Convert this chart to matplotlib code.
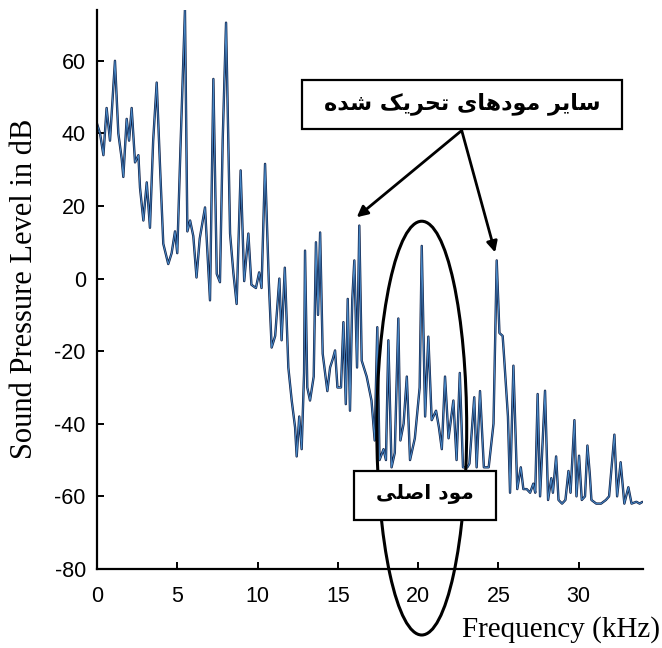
import matplotlib
matplotlib.use("Agg")
import matplotlib.pyplot as plt
from matplotlib.patches import Ellipse, Rectangle

# spectre : fréquence (kHz) / niveau (dB)
freq = [0.0, 0.19, 0.4, 0.6, 0.81, 1.12, 1.33, 1.54, 1.64, 1.85, 2.0, 2.16, 2.37, 2.58,
        2.68, 2.89, 3.1, 3.3, 3.5, 3.72, 3.93, 4.13, 4.44, 4.65, 4.86, 5.0, 5.2, 5.48,
        5.63, 5.8, 6.0, 6.2, 6.4, 6.73, 7.04, 7.25, 7.46, 7.66, 7.83, 8.04, 8.29, 8.5,
        8.7, 8.95, 9.17, 9.43, 9.62, 9.9, 10.1, 10.25, 10.47, 10.7, 10.88, 11.1, 11.36,
        11.5, 11.7, 11.92, 12.13, 12.34, 12.44, 12.6, 12.75, 12.9, 12.96, 13.1, 13.27,
        13.5, 13.64, 13.77, 13.9, 14.06, 14.2, 14.35, 14.52, 14.7, 14.83, 14.98, 15.2,
        15.35, 15.5, 15.62, 15.76, 15.9, 16.03, 16.2, 16.34, 16.49, 16.8, 17.1, 17.3,
        17.46, 17.6, 17.85, 18.0, 18.15, 18.35, 18.55, 18.77, 18.9, 19.1, 19.3, 19.5,
        19.8, 20.1, 20.23, 20.44, 20.64, 20.85, 21.12, 21.3, 21.48, 21.68, 21.9, 22.2,
        22.4, 22.6, 22.8, 23.07, 23.2, 23.5, 23.65, 23.86, 24.1, 24.4, 24.7, 24.9,
        25.07, 25.27, 25.35, 25.6, 25.73, 25.94, 26.18, 26.4, 26.56, 26.77, 26.98,
        27.18, 27.3, 27.45, 27.6, 27.91, 28.1, 28.3, 28.4, 28.6, 28.75, 28.97, 29.18,
        29.37, 29.5, 29.74, 29.87, 30.03, 30.2, 30.4, 30.55, 30.7, 30.8, 31.1, 31.4,
        31.7, 31.9, 32.23, 32.4, 32.62, 32.85, 33.1, 33.3, 33.6, 33.8, 33.95]
spl = [42.7, 40, 34, 47, 38, 60, 40, 33, 28, 44, 38, 47, 32, 34,
       25, 16, 26.5, 14, 38, 54, 30.6, 9.6, 4, 7, 13, 7, 36, 74,
       13, 16, 11.7, 0.3, 11, 19.6, -6, 55, 1.3, -1, 38, 70.5, 12.4, 1.4,
       -7, 29.8, -0.7, 12.4, -1.7, -2.6, 1.7, -2.6, 31.6, -0.5, -19, -15.8, 0,
       -17, 3, -24.5, -33.6, -41, -49, -38, -47, -26, 7.7, -30, -33.6,
       -27, 10, -10, 12.7, -20.7, -25.7, -31, -24.5, -22, -19.8, -30, -30,
       -12, -34.6, -5.6, -36.4, -6, 5, -24.5, 14.6, -22.6, -27, -33.6, -44.6,
       -13.4, -50, -47, -50, -17, -52, -48, -11, -44.6, -40, -27, -50,
       -44, -30, 9, -38, -16, -39, -36.4, -41, -47, -27, -44, -33.6,
       -50, -26, -52, -52, -51, -32.7, -52, -31, -52, -52, -40, 5,
       -15, -15.8, -21, -38, -59, -24, -58, -52, -58, -58, -59,
       -56.5, -59, -31.8, -60, -30.9, -61, -55, -59, -49, -61, -62, -61,
       -53, -59, -39, -60, -48.8, -61, -60, -46, -54, -61, -62, -62,
       -61, -60, -43, -60, -50.6, -62, -57.5, -62, -61.5, -62, -61.6]

xticks = [0, 5, 10, 15, 20, 25, 30]
yticks = [-80, -60, -40, -20, 0, 20, 40, 60]

label_modes = "سایر مودهای تحریک شده"
label_main = "مود اصلی"

# --- mise en forme arabe/persane minimale (matplotlib ne fait pas le shaping) ---
FORMS = {  # isolée, finale, initiale, médiane
    "ا": (0xFE8D, 0xFE8E), "د": (0xFEA9, 0xFEAA), "ر": (0xFEAD, 0xFEAE),
    "و": (0xFEED, 0xFEEE),
    "س": (0xFEB1, 0xFEB2, 0xFEB3, 0xFEB4), "ش": (0xFEB5, 0xFEB6, 0xFEB7, 0xFEB8),
    "ص": (0xFEB9, 0xFEBA, 0xFEBB, 0xFEBC), "ت": (0xFE95, 0xFE96, 0xFE97, 0xFE98),
    "ح": (0xFEA1, 0xFEA2, 0xFEA3, 0xFEA4), "م": (0xFEE1, 0xFEE2, 0xFEE3, 0xFEE4),
    "ه": (0xFEE9, 0xFEEA, 0xFEEB, 0xFEEC), "ل": (0xFEDD, 0xFEDE, 0xFEDF, 0xFEE0),
    "ی": (0xFBFC, 0xFBFD, 0xFBFE, 0xFBFF), "ک": (0xFB8E, 0xFB8F, 0xFB90, 0xFB91),
}


def shape_fa(s):
    out = []
    for i, ch in enumerate(s):
        f = FORMS.get(ch)
        if f is None:
            out.append(ch)
            continue
        prev = s[i - 1] if i > 0 else " "
        nxt = s[i + 1] if i + 1 < len(s) else " "
        jp = prev in FORMS and len(FORMS[prev]) == 4
        jn = nxt in FORMS and len(f) == 4
        if jp and jn:
            out.append(chr(f[3]))
        elif jp:
            out.append(chr(f[1]))
        elif jn:
            out.append(chr(f[2]))
        else:
            out.append(chr(f[0]))
    return "".join(out)[::-1]


plt.rcParams["axes.unicode_minus"] = False

fig = plt.figure(figsize=(6.62, 6.48), dpi=100)
ax = fig.add_axes([0.1465, 0.122, 0.8245, 0.8626])

ax.plot(freq, spl, color="#0f1f45", lw=1.7, solid_joinstyle="round")
ax.plot(freq, spl, color="#4f95d6", lw=0.7, alpha=0.9)

ax.set_xlim(0, 34)
ax.set_ylim(-80, 74)
ax.set_xticks(xticks)
ax.set_yticks(yticks)
for s in ("top", "right"):
    ax.spines[s].set_visible(False)
for s in ("left", "bottom"):
    ax.spines[s].set_linewidth(1.6)
ax.tick_params(direction="in", length=5, width=1.4, labelsize=15.5)
ax.tick_params(axis="x", pad=12)
ax.tick_params(axis="y", pad=8)
for lab in ax.get_xticklabels() + ax.get_yticklabels():
    lab.set_fontfamily("Liberation Sans")

fig.text(25 / 662, 0.554, "Sound Pressure Level in dB", rotation=90,
         ha="center", va="center", fontsize=22, family="Liberation Serif")
fig.text(0.997, 0.028, "Frequency (kHz)", ha="right", va="center",
         fontsize=21, family="Liberation Serif")

# ellipse autour du mode principal
ax.add_patch(Ellipse((20.23, -41.2), 5.6, 114, fill=False, lw=2.2,
                     color="black", clip_on=False, zorder=4))

# encadrés
ax.add_patch(Rectangle((12.77, 41.3), 19.94, 13.5, facecolor="white",
                       edgecolor="black", lw=1.6, zorder=5, clip_on=False))
ax.text(22.74, 48.3, shape_fa(label_modes), ha="center", va="center",
        fontsize=16, fontweight="bold", family="DejaVu Sans", zorder=6)
ax.add_patch(Rectangle((16.01, -66.4), 8.85, 13.5, facecolor="white",
                       edgecolor="black", lw=1.6, zorder=5, clip_on=False))
ax.text(20.43, -59.4, shape_fa(label_main), ha="center", va="center",
        fontsize=14.5, fontweight="bold", family="DejaVu Sans", zorder=6)

# flèches vers les autres modes excités
for tip in [(16.18, 16.9), (24.8, 7.2)]:
    ax.annotate("", xy=tip, xytext=(22.72, 40.8),
                arrowprops=dict(arrowstyle="-|>", lw=2.0, color="black",
                                mutation_scale=16, shrinkA=0, shrinkB=0),
                zorder=6)

fig.savefig("out.png", dpi=100)
